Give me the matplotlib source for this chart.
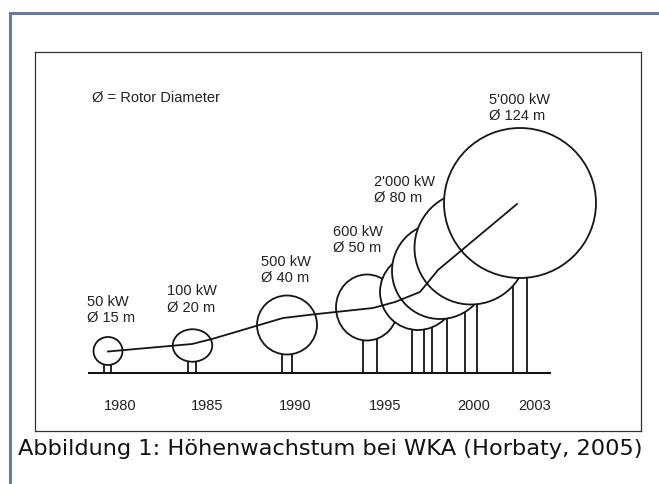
import matplotlib
matplotlib.use("Agg")
import matplotlib.pyplot as plt
from matplotlib.patches import Ellipse, Rectangle

# ---- data (drawing units: ground = 0, 1 unit ~ 1 px of the original figure) ----
years = ["1980", "1985", "1990", "1995", "2000", "2003"]
year_pos = [85, 172, 260, 350, 439, 500]

# rotor (circle) centres = hub positions, and rotor drawing sizes
rotor_x = [73, 157.5, 252, 332, 383, 405, 436, 485]
hub_y = [22, 27.5, 48, 65.5, 81, 102, 125, 170]
rotor_w = [29, 39.5, 60, 62, 76, 96, 113, 152]
rotor_h = [28, 32.5, 59, 66, 76, 96, 113, 150]

# tower legs (two per turbine)
tower_left = [69, 153, 246.7, 328.3, 376.7, 397.3, 430, 478]
tower_right = [76, 161, 257.3, 341.7, 389.3, 412.3, 441.7, 492]

# labelled turbines
power = ["50 kW", "100 kW", "500 kW", "600 kW", "2'000 kW", "5'000 kW"]
diameter_m = [15, 20, 40, 50, 80, 124]
label_x = [52, 131.7, 225.7, 298.3, 339, 454.3]
label_y = [62.6, 73.5, 103, 133, 182.7, 264.7]

# growth line through the hubs
line_x = [73, 157, 177, 248, 282, 338, 360, 385, 403, 482]
line_y = [21.5, 29, 34, 55, 59, 65, 71, 81, 103, 169]

ground_x = [54, 515]

W, H = 659, 484
fig = plt.figure(figsize=(W / 100, H / 100), dpi=100)
fig.patch.set_facecolor("white")

frame_col = "#687a9e"
fig.add_artist(Rectangle((9 / W, 1 - 15.3 / H), (W - 9) / W, 3.3 / H,
                         transform=fig.transFigure, color=frame_col, lw=0))
fig.add_artist(Rectangle((9 / W, 0), 3.3 / W, 1 - 12 / H,
                         transform=fig.transFigure, color=frame_col, lw=0))

left, right, top, bottom = 35, 641, 52, 431
ax = fig.add_axes([left / W, 1 - bottom / H, (right - left) / W, (bottom - top) / H])
ax.set_xlim(0, right - left)
ax.set_ylim(-(bottom - 373), 373 - top)
ax.set_xticks([])
ax.set_yticks([])
for s in ax.spines.values():
    s.set_color("#333333")
    s.set_linewidth(0.9)

ink = "#151515"
lw = 1.3

# towers (below all rotors)
for xl, xr, hy in zip(tower_left, tower_right, hub_y):
    ax.plot([xl, xl], [0, hy], color=ink, lw=lw, zorder=1, solid_capstyle="butt")
    ax.plot([xr, xr], [0, hy], color=ink, lw=lw, zorder=1, solid_capstyle="butt")

# rotors, later ones drawn on top
for i, (cx, cy, w, h) in enumerate(zip(rotor_x, hub_y, rotor_w, rotor_h)):
    ax.add_patch(Ellipse((cx, cy), w, h, facecolor="white", edgecolor=ink,
                         lw=lw, zorder=2 + i))

# ground line
ax.plot(ground_x, [0, 0], color=ink, lw=1.5, zorder=20)

# growth line
ax.plot(line_x, line_y, color=ink, lw=lw, zorder=30)

font = "Liberation Sans"
fs = 10.5
txt_col = "#222222"
for p, d, lx, ly in zip(power, diameter_m, label_x, label_y):
    ax.text(lx, ly, f"{p}\nØ {d} m", ha="left", va="center", fontsize=fs,
            family=font, color=txt_col, linespacing=1.2, zorder=40)

ax.text(56.7, 275, "Ø = Rotor Diameter", ha="left", va="center", fontsize=fs,
        family=font, color=txt_col, zorder=40)

for yr, xp in zip(years, year_pos):
    ax.text(xp, -33, yr, ha="center", va="center", fontsize=fs, family=font,
            color=txt_col, zorder=40)

fig.text(18 / W, 1 - 455 / H, "Abbildung 1: Höhenwachstum bei WKA (Horbaty, 2005)",
         ha="left", va="baseline", fontsize=16.2, family="DejaVu Sans", color="#111111")

fig.savefig("out.png", dpi=100, facecolor="white")
